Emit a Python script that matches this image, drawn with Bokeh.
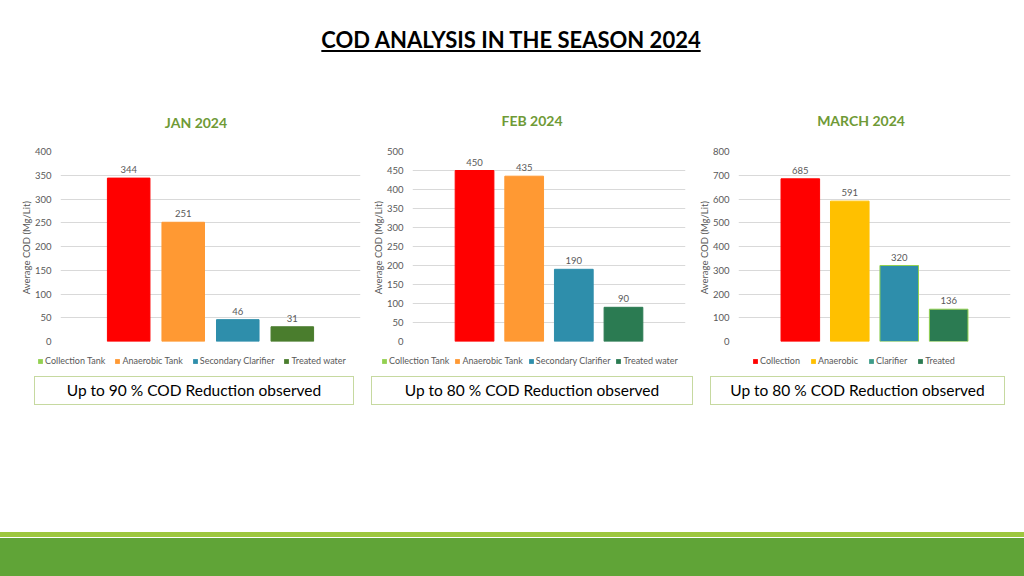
from bokeh.plotting import figure
from bokeh.models import (FactorRange, Range1d, ColumnDataSource, Legend, LegendItem,
                          Div, SingleIntervalTicker)
from bokeh.layouts import column, row
from bokeh.embed import file_html
from bokeh.resources import INLINE
from bokeh.core.properties import value

# ---------------- data ----------------
page_title = "COD ANALYSIS IN THE SEASON 2024"
y_label = "Average  COD (Mg/Lit)"

jan_title = "JAN 2024"
jan_series = ["Collection Tank", "Anaerobic Tank", "Secondary Clarifier", "Treated water"]
jan_values = [344, 251, 46, 31]
jan_ymax, jan_step = 400, 50
jan_note = "Up to 90 % COD Reduction observed"

feb_title = "FEB 2024"
feb_series = ["Collection Tank", "Anaerobic Tank", "Secondary Clarifier", "Treated water"]
feb_values = [450, 435, 190, 90]
feb_ymax, feb_step = 500, 50
feb_note = "Up to 80 % COD Reduction observed"

mar_title = "MARCH 2024"
mar_series = ["Collection", "Anaerobic", "Clarifier", "Treated"]
mar_values = [685, 591, 320, 136]
mar_ymax, mar_step = 800, 100
mar_note = "Up to 80 % COD Reduction observed"

# ---------------- styles ----------------
RED, ORANGE, BLUE, YELLOW = "#FF0000", "#FF9933", "#2E8EAB", "#FFC000"
GREEN_JAN, GREEN_TEAL, LIGHT_GREEN = "#4A7D2D", "#2B7B52", "#92D050"
jan_bar_colors = [RED, ORANGE, BLUE, GREEN_JAN]
jan_leg_colors = [LIGHT_GREEN, ORANGE, BLUE, GREEN_JAN]
feb_bar_colors = [RED, ORANGE, BLUE, GREEN_TEAL]
feb_leg_colors = [LIGHT_GREEN, ORANGE, BLUE, GREEN_TEAL]
mar_bar_colors = [RED, YELLOW, BLUE, GREEN_TEAL]
mar_leg_colors = [RED, YELLOW, "#3E9C8A", GREEN_TEAL]
mar_line_colors = [RED, YELLOW, LIGHT_GREEN, LIGHT_GREEN]

FONT = "Lato"
GRAY = "#595959"
OLIVE = "#6F9A36"


def make_chart(series, values, bar_colors, line_colors, ymax, step, width, b_left, b_right):
    p = figure(width=width, height=216,
               x_range=FactorRange(*series, range_padding=0.75, range_padding_units="absolute"),
               y_range=Range1d(0, ymax),
               output_backend="svg", toolbar_location=None,
               min_border_left=b_left, min_border_right=b_right,
               min_border_top=16, min_border_bottom=10, margin=0, frame_align=False)
    p.outline_line_color = None
    p.xaxis.visible = False
    p.xgrid.visible = False
    p.ygrid.grid_line_color = "#D9D9D9"
    p.ygrid.grid_line_width = 1
    ax = p.yaxis[0]
    ax.ticker = SingleIntervalTicker(interval=step)
    ax.axis_line_color = None
    ax.major_tick_line_color = None
    ax.minor_tick_line_color = None
    ax.major_tick_out = 0
    ax.major_tick_in = 0
    ax.minor_tick_out = 0
    ax.major_label_standoff = 9
    ax.major_label_text_font = FONT
    ax.major_label_text_font_size = "9.5px"
    ax.major_label_text_color = GRAY
    ax.axis_label = y_label
    ax.axis_label_text_font = FONT
    ax.axis_label_text_font_size = "9.5px"
    ax.axis_label_text_font_style = "normal"
    ax.axis_label_text_color = GRAY
    ax.axis_label_standoff = 0

    src = ColumnDataSource(dict(x=series, top=values, color=bar_colors, line=line_colors,
                                label=[str(v) for v in values]))
    p.vbar(x="x", top="top", width=0.78, fill_color="color", line_color="line",
           line_width=1, source=src)
    p.text(x="x", y="top", text="label", source=src, text_align="center",
           text_baseline="bottom", y_offset=-5, text_font=value(FONT),
           text_font_size="9.5px", text_color=GRAY)
    return p


def make_legend(series, leg_colors, width, lx, spacing):
    lf = figure(width=width, height=21, x_range=FactorRange(*series), y_range=Range1d(0, 1),
                x_axis_type=None, y_axis_type=None, output_backend="svg",
                toolbar_location=None, min_border=0, margin=0, frame_align=False)
    lf.outline_line_color = None
    lf.grid.visible = False
    src = ColumnDataSource(dict(x=series, top=[0] * len(series), color=leg_colors))
    r = lf.vbar(x="x", top="top", width=0.5, fill_color="color", line_color=None, source=src)
    items = [LegendItem(label=s, renderers=[r], index=i) for i, s in enumerate(series)]
    leg = Legend(items=items, orientation="horizontal", location=(lx, 6),
                 label_text_font=FONT, label_text_font_size="9px", label_text_color=GRAY,
                 glyph_width=6, glyph_height=6, label_standoff=2, spacing=spacing,
                 padding=0, margin=0, label_height=10, border_line_color=None,
                 background_fill_alpha=0)
    lf.add_layout(leg)
    return lf


f1 = make_chart(jan_series, jan_values, jan_bar_colors, jan_bar_colors,
                jan_ymax, jan_step, 368, 60, 8)
f2 = make_chart(feb_series, feb_values, feb_bar_colors, feb_bar_colors,
                feb_ymax, feb_step, 327, 44, 10)
f3 = make_chart(mar_series, mar_values, mar_bar_colors, mar_line_colors,
                mar_ymax, mar_step, 329, 40, 14)
l1 = make_legend(jan_series, jan_leg_colors, 368, 37, 9)
l2 = make_legend(feb_series, feb_leg_colors, 327, 13, 5)
l3 = make_legend(mar_series, mar_leg_colors, 329, 57, 10)

chart_titles = [(196, 123, jan_title), (532, 121, feb_title), (861, 121, mar_title)]
titles_html = "".join(
    f'<div style="position:absolute;left:{cx - 100}px;top:{cy - 9}px;width:200px;'
    f'text-align:center;font-family:{FONT};font-weight:bold;font-size:14px;'
    f'line-height:18px;color:{OLIVE};">{t}</div>' for cx, cy, t in chart_titles)
title_div = Div(width=1024, height=135, margin=0, text=(
    '<div style="position:relative;width:1024px;height:135px;">'
    '<div style="position:absolute;left:0;top:27px;width:1022px;text-align:center;'
    f'font-family:{FONT};font-weight:bold;font-size:22px;line-height:26px;'
    f'text-decoration:underline;color:#000;">{page_title}</div>' + titles_html + '</div>'))

boxes = [(34, 320, jan_note), (371, 322, feb_note), (710, 295, mar_note)]
box_html = "".join(
    f'<div style="position:absolute;left:{l}px;top:4px;width:{w}px;height:29px;'
    f'box-sizing:border-box;border:1px solid #C6D9A0;text-align:center;line-height:27px;'
    f'font-family:{FONT};font-size:15.5px;color:#000;">{t}</div>' for l, w, t in boxes)
bottom_div = Div(width=1024, height=204, margin=0, text=(
    '<div style="position:relative;width:1024px;height:204px;">' + box_html +
    '<div style="position:absolute;left:0;top:160px;width:1024px;height:5px;background:#9DC73F;"></div>'
    '<div style="position:absolute;left:0;top:166px;width:1024px;height:38px;background:#60A437;"></div>'
    '</div>'))

charts = row(column(f1, l1, spacing=0), column(f2, l2, spacing=0),
             column(f3, l3, spacing=0), spacing=0)
layout = column(title_div, charts, bottom_div, spacing=0)

open("out.html", "w").write(file_html(layout, INLINE))
